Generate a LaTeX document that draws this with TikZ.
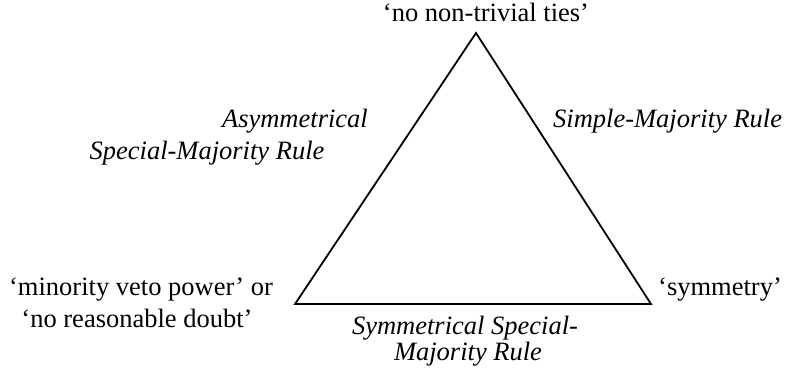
\documentclass[tikz,border=0pt]{standalone}
\usepackage{fontspec}
\setmainfont{Liberation Serif}
\begin{document}
\begin{tikzpicture}[x=1pt,y=1pt,
  lbl/.style={inner sep=0pt, font=\fontsize{26.5}{31}\selectfont},
  rule/.style={lbl, font=\fontsize{26.5}{31}\selectfont\itshape},
  edge/.style={line width=1.8pt, line join=miter}]
\useasboundingbox (0,0) rectangle (786,367);
\coordinate (T) at (476,334);
\coordinate (L) at (295,63);
\coordinate (R) at (651,63);
\draw[edge] (T) -- (L) -- (R) -- cycle;
\node[lbl, anchor=base] (top) at (486,345) {‘no non-trivial ties’};
\node[rule, anchor=base east] (asym) at (368,239) {Asymmetrical};
\node[rule, anchor=base] (asym2) at (207,207) {Special-Majority Rule};
\node[rule, anchor=base west] (simple) at (553,239) {Simple-Majority Rule};
\node[lbl, anchor=base] (mvp) at (141,72) {‘minority veto power’ or};
\node[lbl, anchor=base] (nrd) at (137,40) {‘no reasonable doubt’};
\node[lbl, anchor=base west] (sym) at (658,72) {‘symmetry’};
\node[rule, anchor=base] (ssm) at (465,33) {Symmetrical Special-};
\node[rule, anchor=base] (ssm2) at (468,7) {Majority Rule};
\end{tikzpicture}
\end{document}
